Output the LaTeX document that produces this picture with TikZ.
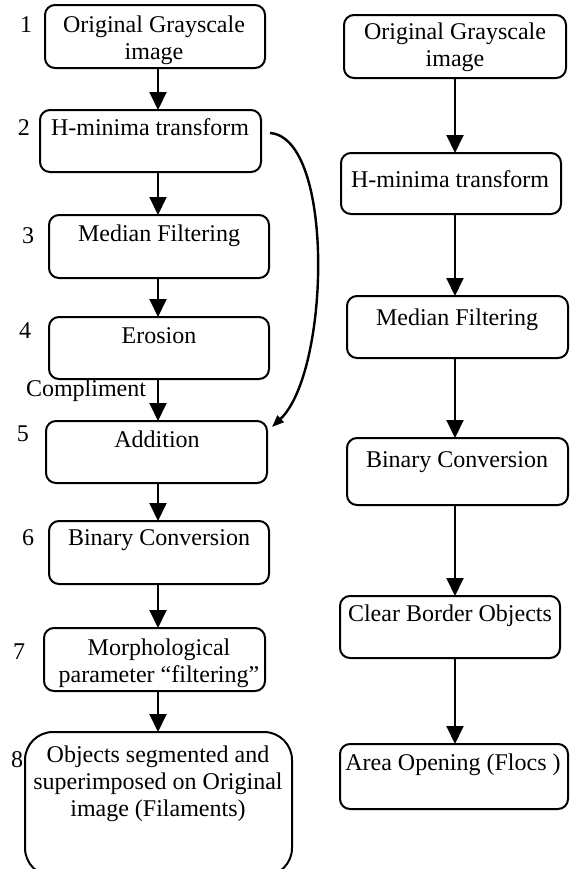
\documentclass[tikz,border=0pt]{standalone}
\usepackage{fontspec}
\setmainfont{Liberation Serif}
\usetikzlibrary{arrows.meta}
\begin{document}
\begin{tikzpicture}[x=0.5pt,y=-0.5pt,
  box/.style={draw=black, line width=1pt, rounded corners=5pt, outer sep=0pt, inner sep=0pt},
  bigbox/.style={box, rounded corners=14pt},
  txt/.style={inner sep=0pt, outer sep=0pt, align=center, font=\fontsize{12pt}{13.6pt}\selectfont},
  num/.style={inner sep=0pt, font=\fontsize{12pt}{13.6pt}\selectfont},
  arr/.style={draw=black, line width=1pt, -{Triangle[width=8.5pt,length=9pt]}},
  curv/.style={draw=black, line width=1.2pt, -{Triangle[width=4.5pt,length=6pt]}}]
\useasboundingbox (0,0) rectangle (571,869);

% left column boxes
\node[box, minimum width=110pt,   minimum height=31.5pt] (L1) at (155,36.5) {};
\node[box, minimum width=110.5pt, minimum height=31pt]   (L2) at (150.5,141) {};
\node[box, minimum width=110pt,   minimum height=31.5pt] (L3) at (159,246.5) {};
\node[box, minimum width=110pt,   minimum height=31pt]   (L4) at (159,348) {};
\node[box, minimum width=110.5pt, minimum height=31pt]   (L5) at (156.5,452) {};
\node[box, minimum width=110pt,   minimum height=31.5pt] (L6) at (159,552.5) {};
\node[box, minimum width=110.5pt, minimum height=31.5pt] (L7) at (154.5,659.5) {};
\node[bigbox, minimum width=133.5pt, minimum height=72pt] (L8) at (158.5,804) {};

% left texts
\node[txt] (tL1) at (154,40.5) {Original Grayscale\\image};
\node[txt] (tL2) at (150,127.5) {H-minima transform};
\node[txt] (tL3) at (159,236) {Median Filtering};
\node[txt] (tL4) at (159,336) {Erosion};
\node[txt] (tL5) at (157,439) {Addition};
\node[txt] (tL6) at (159,540) {Binary Conversion};
\node[txt] (tL7) at (159,663.5) {Morphological\\parameter “filtering”};
\node[txt] (tL8) at (158,783.5) {Objects segmented and\\superimposed on Original\\image (Filaments)};

% step numbers
\node[num] (n1) at (26,25) {1};
\node[num] (n2) at (24,128) {2};
\node[num] (n3) at (28,236) {3};
\node[num] (n4) at (25,331) {4};
\node[num] (n5) at (23,434) {5};
\node[num] (n6) at (28,538) {6};
\node[num] (n7) at (19,652) {7};
\node[num] (n8) at (17,760) {8};
\node[num] (comp) at (86,391) {Compliment};

% right column boxes
\node[box, minimum width=111pt,   minimum height=31.5pt] (R1) at (455,46.5) {};
\node[box, minimum width=110pt,   minimum height=30.5pt] (R2) at (451,183.5) {};
\node[box, minimum width=110.5pt, minimum height=31pt]   (R3) at (457.5,327) {};
\node[box, minimum width=110.5pt, minimum height=33.5pt] (R4) at (457.5,471.5) {};
\node[box, minimum width=110pt,   minimum height=31pt]   (R5) at (450,627) {};
\node[box, minimum width=114pt,   minimum height=32.5pt] (R6) at (454,776.5) {};

% right texts
\node[txt] (tR1) at (455,47) {Original Grayscale\\image};
\node[txt] (tR2) at (450,179.5) {H-minima transform};
\node[txt] (tR3) at (457,320) {Median Filtering};
\node[txt] (tR4) at (457,462) {Binary Conversion};
\node[txt] (tR5) at (450,616) {Clear Border Objects};
\node[txt] (tR6) at (453,765) {Area Opening (Flocs )};

% arrow axes
\coordinate (ax) at (158,0);
\coordinate (bx) at (455,0);

\draw[arr] (L1.south -| ax) -- (L2.north -| ax);
\draw[arr] (L2.south -| ax) -- (L3.north -| ax);
\draw[arr] (L3.south -| ax) -- (L4.north -| ax);
\draw[arr] (L4.south -| ax) -- (L5.north -| ax);
\draw[arr] (L5.south -| ax) -- (L6.north -| ax);
\draw[arr] (L6.south -| ax) -- (L7.north -| ax);
\draw[arr] (L7.south -| ax) -- (L8.north -| ax);

\draw[arr] (R1.south -| bx) -- (R2.north -| bx);
\draw[arr] (R2.south -| bx) -- (R3.north -| bx);
\draw[arr] (R3.south -| bx) -- (R4.north -| bx);
\draw[arr] (R4.south -| bx) -- (R5.north -| bx);
\draw[arr] (R5.south -| bx) -- (R6.north -| bx);

% curved feedback arrow
\coordinate (cs) at ([shift={(9,-8)}]L2.east);
\coordinate (ce) at ([shift={(5,-25)}]L5.east);
\draw[curv] (cs) .. controls (335,138) and (330,372) .. (ce);
\end{tikzpicture}
\end{document}
